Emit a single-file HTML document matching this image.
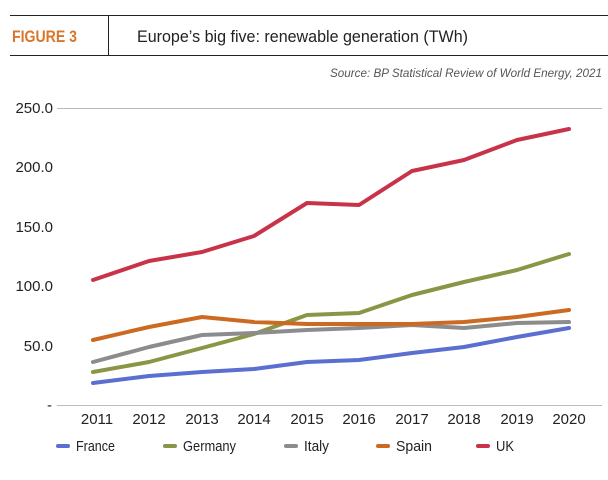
<!DOCTYPE html>
<html><head><meta charset="utf-8"><style>
body{margin:0;background:#fff;width:608px;height:475px;overflow:hidden;font-family:"Liberation Sans",sans-serif}
</style></head><body>
<svg width="608" height="475" xmlns="http://www.w3.org/2000/svg" font-family="'Liberation Sans',sans-serif">
<line x1="10" y1="15.5" x2="608" y2="15.5" stroke="#222" stroke-width="1"/>
<line x1="10" y1="55.5" x2="608" y2="55.5" stroke="#222" stroke-width="1"/>
<line x1="108.5" y1="15" x2="108.5" y2="55" stroke="#222" stroke-width="1"/>
<text x="12" y="42" font-size="17" font-weight="bold" fill="#d9762b" textLength="65" lengthAdjust="spacingAndGlyphs">FIGURE 3</text>
<text x="137" y="42" font-size="17" fill="#222" textLength="331" lengthAdjust="spacingAndGlyphs">Europe’s big five: renewable generation (TWh)</text>
<text x="602" y="77" font-size="11.5" font-style="italic" fill="#555" text-anchor="end" textLength="272" lengthAdjust="spacingAndGlyphs">Source: BP Statistical Review of World Energy, 2021</text>
<line x1="57" y1="108.5" x2="602" y2="108.5" stroke="#bbb"/>
<line x1="57" y1="405.5" x2="602" y2="405.5" stroke="#bbb"/>
<g font-size="15" fill="#222" text-anchor="end">
<text x="53" y="113">250.0</text><text x="53" y="172">200.0</text><text x="53" y="232">150.0</text>
<text x="53" y="291">100.0</text><text x="53" y="351">50.0</text><text x="52" y="410">-</text>
</g>
<g font-size="15" fill="#222" text-anchor="middle">
<text x="97" y="424">2011</text><text x="149" y="424">2012</text><text x="202" y="424">2013</text><text x="254" y="424">2014</text><text x="307" y="424">2015</text><text x="359" y="424">2016</text><text x="412" y="424">2017</text><text x="464" y="424">2018</text><text x="517" y="424">2019</text><text x="569" y="424">2020</text>
</g>
<g fill="none" stroke-width="4" stroke-linejoin="round" stroke-linecap="round">
<polyline stroke="#5b6fd0" points="93,383 149,376 202,372 254,369 307,362 359,360 412,353 464,347 517,337 569,328"/>
<polyline stroke="#8b9546" points="93,372 149,362 202,348 254,334 307,315 359,313 412,295 464,282 517,270 569,254"/>
<polyline stroke="#8c8c8c" points="93,362 149,347 202,335 254,333 307,330 359,328 412,325 464,328 517,323 569,322"/>
<polyline stroke="#cc6a22" points="93,340 149,327 202,317 254,322 307,324 359,324 412,324 464,322 517,317 569,310"/>
<polyline stroke="#c8334a" points="93,280 149,261 202,252 254,236 307,203 359,205 412,171 464,160 517,140 569,129"/>
</g>
<g font-size="15" fill="#222">
<rect x="56" y="444" width="14" height="4" rx="2" fill="#5b6fd0"/><text x="76" y="451" textLength="39" lengthAdjust="spacingAndGlyphs">France</text>
<rect x="163" y="444" width="14" height="4" rx="2" fill="#8b9546"/><text x="183" y="451" textLength="53" lengthAdjust="spacingAndGlyphs">Germany</text>
<rect x="284" y="444" width="14" height="4" rx="2" fill="#8c8c8c"/><text x="304" y="451" textLength="25" lengthAdjust="spacingAndGlyphs">Italy</text>
<rect x="376" y="444" width="14" height="4" rx="2" fill="#cc6a22"/><text x="396" y="451" textLength="36" lengthAdjust="spacingAndGlyphs">Spain</text>
<rect x="476" y="444" width="14" height="4" rx="2" fill="#c8334a"/><text x="496" y="451" textLength="18" lengthAdjust="spacingAndGlyphs">UK</text>
</g>
</svg>
</body></html>
